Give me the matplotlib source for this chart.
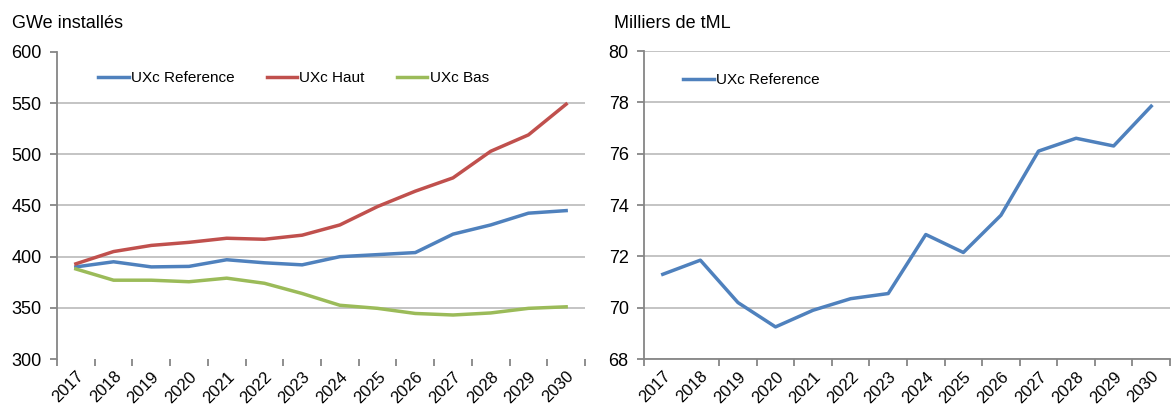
import matplotlib
matplotlib.use("Agg")
import matplotlib.pyplot as plt
import numpy as np

plt.rcParams['font.family'] = ['Liberation Sans', 'DejaVu Sans']

years = [str(y) for y in range(2017, 2031)]
ref_gwe = [390, 395, 390, 390.5, 397, 394, 392, 400, 402, 404, 422, 431, 442.5, 445]
haut_gwe = [393, 405, 411, 414, 418, 417, 421, 431, 449, 464, 477, 503, 519, 549]
bas_gwe = [388, 377, 377, 375.5, 379, 374, 364, 352.5, 349.5, 344.5, 343, 345, 349.5, 351]
ref_tml = [71.3, 71.85, 70.2, 69.25, 69.9, 70.35, 70.55, 72.85, 72.15, 73.6, 76.1, 76.6, 76.3, 77.85]

c_blue = '#4F81BD'
c_red = '#C0504D'
c_green = '#9BBB59'
grid_c = '#BFBFBF'
axis_c = '#868686'

W, H = 1171, 407
fig = plt.figure(figsize=(W / 100, H / 100), dpi=100)

def px_axes(x0, x1, ytop, ybot):
    return fig.add_axes([x0 / W, (H - ybot) / H, (x1 - x0) / W, (ybot - ytop) / H])

ax1 = px_axes(57, 585, 52, 359)
ax2 = px_axes(644, 1170, 51, 359)

def style(ax, ymin, ymax, step, bottom_line, skip_tick=None):
    n = len(years)
    x = np.arange(n)
    ax.set_xlim(-0.5, n - 0.5)
    ax.set_ylim(ymin, ymax)
    ax.set_yticks(np.arange(ymin, ymax + step / 2, step))
    ax.yaxis.grid(True, color=grid_c, linewidth=1.3)
    ax.set_axisbelow(True)
    for s in ['top', 'right']:
        ax.spines[s].set_visible(False)
    for s in ['left', 'bottom']:
        ax.spines[s].set_color(axis_c)
        ax.spines[s].set_linewidth(1.3)
    ax.spines['bottom'].set_visible(bottom_line)
    majors = [b for b in np.arange(-0.5, n, 1.0) if skip_tick is None or abs(b - skip_tick) > 1e-6]
    ax.set_xticks(majors, minor=False)
    ax.set_xticklabels([])
    ax.set_xticks(x, minor=True)
    ax.set_xticklabels(years, minor=True, rotation=45, ha='right',
                       rotation_mode='anchor', fontsize=12)
    ax.tick_params(axis='x', which='minor', length=0, pad=7)
    ax.tick_params(axis='x', which='major', length=5, color=axis_c, width=1.3)
    ax.tick_params(axis='y', length=5, color=axis_c, width=1.3, labelsize=13, pad=6)

x = np.arange(len(years))
style(ax1, 300, 600, 50, bottom_line=False)
gl = ax1.yaxis.get_gridlines()
gl[0].set_visible(False)
gl[-1].set_visible(False)
ax1.plot(x, ref_gwe, color=c_blue, lw=2.5, label='UXc Reference')
ax1.plot(x, haut_gwe, color=c_red, lw=2.5, label='UXc Haut')
ax1.plot(x, bas_gwe, color=c_green, lw=2.5, label='UXc Bas')
ax1.legend(loc='center left', bbox_to_anchor=((98 - 57) / 528, (359 - 78) / 307), ncol=3,
           frameon=False, fontsize=11, handlelength=2.0, handletextpad=0.15,
           columnspacing=2.1, borderaxespad=0, borderpad=0)

style(ax2, 68, 80, 2, bottom_line=True, skip_tick=0.5)
ax2.plot(x, ref_tml, color=c_blue, lw=2.5, label='UXc Reference')
ax2.legend(loc='center left', bbox_to_anchor=((683 - 644) / 526, (359 - 80) / 308),
           frameon=False, fontsize=11, handlelength=2.0, handletextpad=0.15,
           borderaxespad=0, borderpad=0)

fig.text(12 / W, 1 - 23 / H, 'GWe installés', fontsize=13, va='center', ha='left')
fig.text(614 / W, 1 - 23 / H, 'Milliers de tML', fontsize=13, va='center', ha='left')

fig.savefig('out.png', dpi=100)
